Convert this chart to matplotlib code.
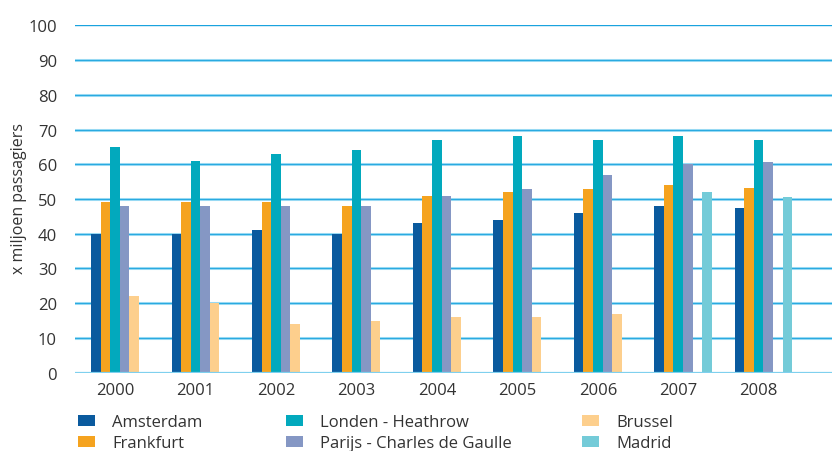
import matplotlib
matplotlib.use("Agg")
import matplotlib.pyplot as plt
import numpy as np

plt.rcParams['font.family'] = ['Open Sans', 'DejaVu Sans']

years = ['2000', '2001', '2002', '2003', '2004', '2005', '2006', '2007', '2008']
amsterdam = [40, 40, 41, 40, 43, 44, 46, 48, 47.4]
frankfurt = [49, 49, 49, 48, 51, 52, 53, 54, 53.2]
londen = [65, 61, 63, 64, 67, 68, 67, 68, 67]
parijs = [48, 48, 48, 48, 51, 53, 57, 60, 60.7]
brussel = [22, 20, 14, 15, 16, 16, 17, np.nan, np.nan]
madrid = [np.nan, np.nan, np.nan, np.nan, np.nan, np.nan, np.nan, 52, 50.6]

series = [
    ('Amsterdam', amsterdam, '#0a5a9e'),
    ('Frankfurt', frankfurt, '#f5a31f'),
    ('Londen - Heathrow', londen, '#02a9bd'),
    ('Parijs - Charles de Gaulle', parijs, '#8597c4'),
    ('Brussel', brussel, '#fdcf8d'),
    ('Madrid', madrid, '#74cbd8'),
]

W, H = 832, 452
fig = plt.figure(figsize=(W / 100, H / 100), dpi=100)
ax = fig.add_axes([75 / W, (H - 373.7) / H, (W - 75) / W, 347.4 / H])

x = np.arange(len(years))
bw = 0.119
handles = []
for i, (name, vals, col) in enumerate(series):
    b = ax.bar(x - 0.24 + i * bw, vals, width=bw, color=col, label=name, zorder=3, linewidth=0)
    handles.append(b)

ax.set_ylim(0, 100)
ax.set_xlim(-0.5, 8.91)
ax.set_yticks(range(0, 101, 10))
for yv in range(10, 100, 10):
    ax.axhline(yv, color='#b3e5f8', lw=2.2, zorder=1)
    ax.axhline(yv, color='#2aaae0', lw=1.0, zorder=2)
ax.axhline(100, color='#1aa3de', lw=1.0, zorder=2)
ax.axhline(0, color='#7fd0ee', lw=1.6, zorder=4)

ax.set_xticks(x)
ax.set_xticklabels(years)
for s in ax.spines.values():
    s.set_visible(False)
ax.tick_params(axis='both', length=0, labelsize=12, colors='#333333')
ax.tick_params(axis='y', pad=13)
ax.tick_params(axis='x', pad=7)

fig.text(19 / W, 1 - 198 / H, 'x miljoen passagiers', rotation=90, ha='center', va='center',
         fontsize=11.5, color='#333333')

col_x = [78, 286, 582]
for c in range(3):
    hs = handles[2 * c:2 * c + 2]
    leg = fig.legend(hs, [h.get_label() for h in hs], loc='center left',
                     bbox_to_anchor=(col_x[c] / W, 1 - 434 / H), frameon=False,
                     fontsize=12, handlelength=1.0, handleheight=0.6,
                     handletextpad=1.05, labelspacing=0.3, borderpad=0, borderaxespad=0)
    for t in leg.get_texts():
        t.set_color('#333333')

fig.savefig('out.png', dpi=100)
